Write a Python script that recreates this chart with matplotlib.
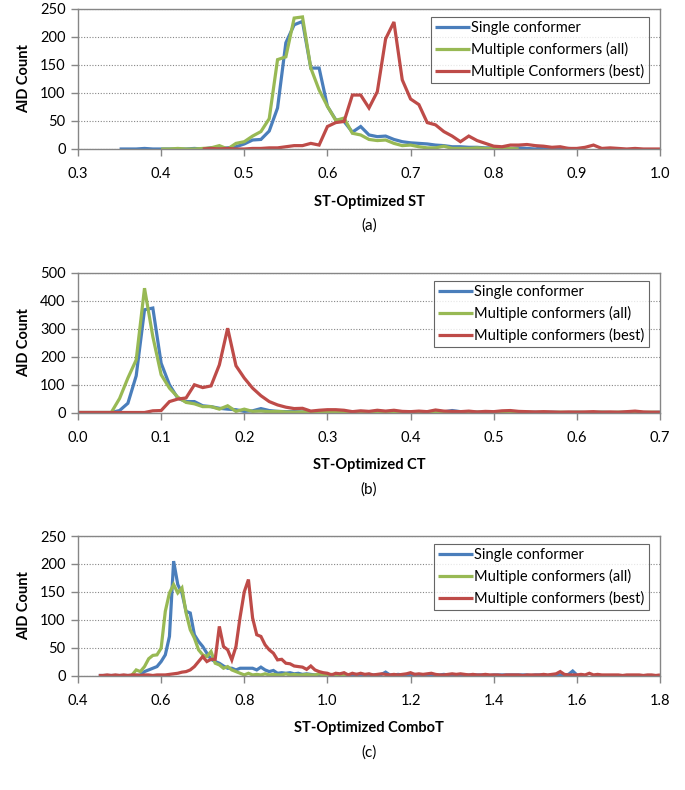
import numpy as np
import matplotlib
matplotlib.use("Agg")
import matplotlib.pyplot as plt

plt.rcParams['font.family'] = ['Lato', 'DejaVu Sans']

BLUE = '#4A7EBB'
GREEN = '#98B954'
RED = '#BE4B48'
GRAY = '#868686'

# ---- panel (a): ST-Optimized ST ----
a_blue_start = 0.35
a_blue = [0, 0, 0, 1, 0, 0, 0, 0, 0, 1, 0, 2, 1, 2,
          4, 9, 16, 17, 32, 73, 189, 221, 227, 144, 144, 76, 52, 49, 30, 40,
          25, 22, 23, 17, 13, 11, 10, 9, 7, 6, 4, 4, 3, 3, 2, 2, 1, 1, 2, 1,
          0, 3, 1, 0, 1, 0]
a_green_start = 0.40
a_green = [0, 0, 1, 0, 0, 1, 2, 6, 0,
           10, 13, 23, 31, 54, 159, 164, 233, 235, 144, 105, 76, 51, 55, 28,
           25, 17, 15, 16, 10, 6, 7, 4, 2, 2, 5, 1, 1, 1, 2, 1, 1, 0, 1, 0]
a_red_start = 0.45
a_red = [0, 1, 0, 1, 0, 0, 1, 1, 2, 2,
         4, 6, 6, 10, 7, 40, 47, 49, 96, 96, 73, 102, 196, 226, 123, 89, 79,
         47, 43, 31, 23, 13, 23, 15, 10, 5, 4, 7, 7, 8, 6, 5, 3, 4, 1, 1, 3,
         7, 1, 2, 1, 0, 1, 0, 0, 0]

# ---- panel (b): ST-Optimized CT ----
b_start = 0.0
b_blue = [0, 0, 0, 0, 0,
          7, 33, 131, 367, 373, 176, 99, 51, 39, 39,
          24, 21, 15, 12, 10, 4, 6, 14, 7, 4,
          3, 3, 2, 3, 2, 1, 2, 1, 2, 1,
          1, 2, 1, 2, 1, 1, 2, 1, 1, 2,
          7, 3, 1, 1, 0, 1, 1, 0, 1, 0,
          1, 0, 1, 0, 0, 1, 0, 0, 1, 0,
          0, 1, 0, 0, 0, 1]
b_green = [0, 0, 0, 0, 0,
           50, 123, 188, 444, 271, 135, 87, 55, 36, 31,
           21, 21, 12, 24, 4, 12, 4, 5, 3, 4,
           2, 1, 2, 1, 3, 1, 2, 1, 1, 2,
           1, 1, 2, 1, 1, 3, 1, 2, 1, 1,
           1, 2, 1, 1, 0, 1, 1, 3, 1, 1,
           0, 1, 0, 1, 0, 1, 0, 0, 1, 0,
           1, 0, 3, 0, 1, 0]
b_red = [0, 0, 0, 0, 0, 0, 0, 0, 0,
         6, 7, 39, 48, 52, 99, 89, 95, 170, 301,
         167, 123, 87, 60, 39, 27, 19, 14, 15, 5,
         8, 10, 10, 8, 3, 6, 4, 8, 5, 8,
         4, 3, 5, 3, 9, 5, 4, 3, 5, 2,
         4, 3, 6, 7, 4, 3, 2, 3, 2, 1,
         2, 1, 2, 3, 1, 2, 1, 3, 5, 2,
         1, 1]

# ---- panel (c): ST-Optimized ComboT ----
c_blue_start = 0.45
c_blue = [0, 0, 0, 0, 0, 0, 0, 0, 0, 0,
          1, 7, 10, 13, 16, 25, 37, 70, 205, 163,
          148, 115, 112, 73, 61, 52, 40, 29, 25, 22,
          17, 13, 13, 10, 13, 13, 13, 13, 10, 15,
          10, 7, 9, 4, 5, 4, 5, 3, 4, 2,
          3, 2, 1, 2, 1, 2, 1, 1, 2, 1,
          1, 1, 2, 1, 1, 2, 1, 1, 2, 6,
          1, 1, 2, 1, 1, 1, 2, 1, 1, 1,
          1, 1, 1, 2, 1, 1, 1, 1, 1, 1,
          1, 1, 1, 1, 0, 1, 1, 1, 1, 1,
          1, 1, 1, 1, 0, 1, 1, 1, 0, 1,
          1, 1, 1, 2, 8, 1]
c_green_start = 0.53
c_green = [1, 10, 7, 16, 30, 36, 37, 49, 115, 148,
           163, 148, 157, 112, 82, 67, 46, 37, 34, 43,
           22, 19, 13, 16, 10, 7, 4, 1, 4, 1,
           2, 1, 3, 1, 2, 1, 1, 3, 1, 2,
           1, 1, 2, 1, 1, 3, 1, 1, 2, 1,
           1, 2, 0]
c_red_start = 0.45
c_red = [0, 0, 1, 0, 1, 0, 1, 0, 1, 1,
         0, 1, 1, 0, 1, 1, 1, 2, 3, 4,
         6, 7, 10, 16, 25, 34, 25, 29, 29, 88,
         52, 46, 28, 52, 105, 150, 172, 103, 73, 70,
         55, 46, 40, 28, 29, 22, 21, 17, 16, 15,
         11, 17, 10, 7, 5, 4, 1, 4, 3, 5,
         1, 4, 2, 4, 2, 3, 1, 2, 3, 2,
         1, 2, 1, 2, 3, 5, 2, 3, 2, 3,
         4, 2, 1, 1, 2, 3, 2, 3, 2, 1,
         2, 1, 1, 2, 1, 1, 1, 0, 1, 1,
         1, 1, 0, 1, 1, 1, 1, 2, 1, 2,
         3, 7, 2, 1, 1, 1, 2, 1, 4, 1,
         2, 1, 1, 1, 1, 1, 0, 1, 1, 1,
         1, 0, 1, 1, 0, 1]


def xs(start, vals):
    return np.round(start + 0.01 * np.arange(len(vals)), 2)


panels = [
    dict(rect=[78, 8.5, 660, 149],
         series=[(a_blue_start, a_blue), (a_green_start, a_green), (a_red_start, a_red)],
         labels=['Single conformer', 'Multiple conformers (all)', 'Multiple Conformers (best)'],
         xlim=(0.3, 1.0), xstep=0.1, ylim=(0, 250), ystep=50,
         xlabel='ST-Optimized ST', tag='(a)', leg_top=17),
    dict(rect=[78, 272.5, 660, 412.5],
         series=[(b_start, b_blue), (b_start, b_green), (b_start, b_red)],
         labels=['Single conformer', 'Multiple conformers (all)', 'Multiple conformers (best)'],
         xlim=(0.0, 0.7), xstep=0.1, ylim=(0, 500), ystep=100,
         xlabel='ST-Optimized CT', tag='(b)', leg_top=281),
    dict(rect=[78, 536, 660, 675.5],
         series=[(c_blue_start, c_blue), (c_green_start, c_green), (c_red_start, c_red)],
         labels=['Single conformer', 'Multiple conformers (all)', 'Multiple conformers (best)'],
         xlim=(0.4, 1.8), xstep=0.2, ylim=(0, 250), ystep=50,
         xlabel='ST-Optimized ComboT', tag='(c)', leg_top=544),
]

W, H = 685, 790
fig = plt.figure(figsize=(W / 100, H / 100), dpi=100)

for p in panels:
    l, t, r, b = p['rect']
    ax = fig.add_axes([l / W, 1 - b / H, (r - l) / W, (b - t) / H])
    for (start, vals), col, lab in zip(p['series'], [BLUE, GREEN, RED], p['labels']):
        ax.plot(xs(start, vals), vals, color=col, lw=2.3, label=lab,
                solid_joinstyle='miter', solid_capstyle='butt')
    ax.set_xlim(*p['xlim'])
    ax.set_ylim(*p['ylim'])
    xt = np.round(np.arange(p['xlim'][0], p['xlim'][1] + 1e-9, p['xstep']), 2)
    ax.set_xticks(xt)
    ax.set_xticklabels(['%.1f' % v for v in xt])
    ax.set_yticks(np.arange(p['ylim'][0], p['ylim'][1] + 1, p['ystep']))
    for s in ax.spines.values():
        s.set_color(GRAY)
        s.set_linewidth(1.0)
    ax.tick_params(direction='out', length=5, width=1, color=GRAY,
                   labelsize=10.5, labelcolor='black')
    ax.tick_params(axis='x', pad=8)
    ax.tick_params(axis='y', pad=4)
    ax.yaxis.grid(True, linestyle=(0, (1, 1.5)), color=GRAY, lw=0.8)
    ax.set_axisbelow(True)
    ax.set_ylabel('AID Count', fontsize=10.5, fontweight='bold', labelpad=6)
    ax.set_xlabel(p['xlabel'], fontsize=10.5, fontweight='bold', labelpad=10)
    leg = ax.legend(loc='upper right', bbox_to_anchor=(649 / W, 1 - p['leg_top'] / H),
                    bbox_transform=fig.transFigure, fontsize=10.5, frameon=True,
                    fancybox=False, handlelength=2.4, handletextpad=0.1,
                    borderpad=0.3, labelspacing=0.45, borderaxespad=0)
    leg.get_frame().set_edgecolor('#404040')
    leg.get_frame().set_linewidth(0.8)
    fig.text(369 / W, 1 - (b + 77) / H, p['tag'], ha='center', va='center', fontsize=11)

fig.savefig('out.png', dpi=100)
